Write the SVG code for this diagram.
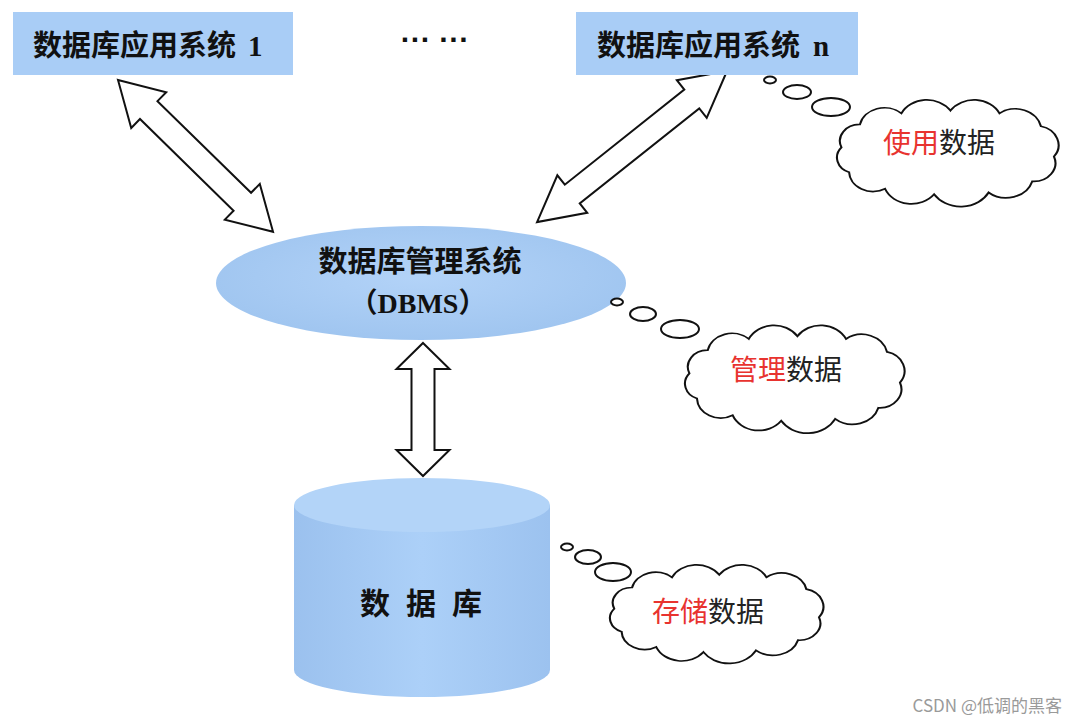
<svg xmlns="http://www.w3.org/2000/svg" xmlns:xlink="http://www.w3.org/1999/xlink" width="1075" height="723" viewBox="0 0 1075 723">
<style>
.box{fill:#a9cdf6;}
.t{font-family:"Noto Sans CJK SC","Noto Sans",sans-serif;font-weight:700;fill:#111;}
.s{font-family:"Liberation Serif","Noto Sans CJK SC",serif;font-weight:700;}
.arr{fill:#fff;stroke:#111;stroke-width:2;stroke-linejoin:miter;}
.cloud{fill:#fff;stroke:#111;stroke-width:2;}
.bub{fill:#fff;stroke:#111;stroke-width:2;}
.ct{font-family:"Noto Sans CJK SC","Noto Sans",sans-serif;font-size:28px;fill:#222;}
.red{fill:#e8332f;}
</style>
<defs>
<radialGradient id="eg" cx="0.5" cy="0.45" r="0.6">
<stop offset="0" stop-color="#b3d3f8"/>
<stop offset="1" stop-color="#9ec4ef"/>
</radialGradient>
<linearGradient id="cg" x1="0" y1="0" x2="1" y2="0">
<stop offset="0" stop-color="#9bc1ee"/>
<stop offset="0.5" stop-color="#acd0f8"/>
<stop offset="1" stop-color="#9cc2ef"/>
</linearGradient>
<path id="cloudp" d="M-95,-5 A18,18 0 0 1 -78,-30 A23,23 0 0 1 -40,-42 A26,26 0 0 1 5,-45 A26,26 0 0 1 50,-42 A24,24 0 0 1 88,-28 A21,21 0 0 1 100,5 A20,20 0 0 1 80,32 A25,25 0 0 1 40,44 A29,29 0 0 1 -10,46 A26,26 0 0 1 -55,40 A22,22 0 0 1 -88,22 A17,17 0 0 1 -95,-5 Z"/>
</defs>
<rect width="1075" height="723" fill="#fff"/>

<g id="connectors">
<polygon class="arr" transform="translate(118,80) rotate(44.4)" points="0,0 43,-25 43,-12.5 174,-12.5 174,-25 217,0 174,25 174,12.5 43,12.5 43,25"/>
<polygon class="arr" transform="translate(727,71) rotate(141.5)" points="0,0 45,-24 45,-12 197.7,-12 197.7,-24 242.7,0 197.7,24 197.7,12 45,12 45,24"/>
<polygon class="arr" transform="translate(423,343) rotate(90)" points="0,0 26,-26.5 26,-11.5 107,-11.5 107,-26.5 133,0 107,26.5 107,11.5 26,11.5 26,26.5"/>
</g>

<g id="app1">
<rect class="box" x="13" y="12" width="280" height="63"/>
<text class="t" x="33" y="56" font-size="29">数据库应用系统<tspan class="s" x="248">1</tspan></text>
</g>

<g id="ellipsis">
<text x="435" y="50" font-family="Liberation Sans, sans-serif" font-weight="700" font-size="30" fill="#111" text-anchor="middle">··· ···</text>
</g>

<g id="appn">
<rect class="box" x="576" y="12" width="282" height="63"/>
<text class="t" x="597" y="56" font-size="29">数据库应用系统<tspan class="s" x="813">n</tspan></text>
</g>

<g id="dbms">
<ellipse cx="421" cy="283" rx="205" ry="57" fill="url(#eg)"/>
<text class="t" x="420" y="272" font-size="29" text-anchor="middle">数据库管理系统</text>
<text class="t" x="418" y="313" font-size="28" text-anchor="middle">（<tspan class="s">DBMS</tspan>）</text>
</g>

<g id="database">
<rect x="294" y="505" width="256" height="165" fill="url(#cg)"/>
<ellipse cx="422" cy="670" rx="128" ry="27" fill="url(#cg)"/>
<ellipse cx="422" cy="505" rx="128" ry="27" fill="#b3d4f8"/>
<text class="t" font-size="30" y="614" x="360 390 406 436 452">数 据 库</text>
</g>

<g id="cloud-use">
<ellipse class="bub" cx="770" cy="80" rx="6" ry="3.5"/>
<ellipse class="bub" cx="797" cy="92" rx="14" ry="7"/>
<ellipse class="bub" cx="831" cy="107" rx="19" ry="9"/>
<use xlink:href="#cloudp" class="cloud" transform="translate(945,152) scale(1.09,0.92)" style="stroke-width:1.9"/>
<text class="ct" x="939" y="153" text-anchor="middle"><tspan class="red">使用</tspan>数据</text>
</g>

<g id="cloud-manage">
<ellipse class="bub" cx="617" cy="302" rx="6" ry="3.5"/>
<ellipse class="bub" cx="643" cy="314" rx="13" ry="7"/>
<ellipse class="bub" cx="680" cy="329" rx="19" ry="9"/>
<use xlink:href="#cloudp" class="cloud" transform="translate(792,378) scale(1.08,0.93)" style="stroke-width:1.9"/>
<text class="ct" x="786" y="380" text-anchor="middle"><tspan class="red">管理</tspan>数据</text>
</g>

<g id="cloud-store">
<ellipse class="bub" cx="567" cy="547" rx="6" ry="3.5"/>
<ellipse class="bub" cx="588" cy="557" rx="13" ry="7"/>
<ellipse class="bub" cx="613" cy="572" rx="18" ry="9"/>
<use xlink:href="#cloudp" class="cloud" transform="translate(714,613) scale(1.05,0.85)" style="stroke-width:2"/>
<text class="ct" x="708" y="622" text-anchor="middle"><tspan class="red">存储</tspan>数据</text>
</g>

<g id="watermark">
<text x="1062" y="712" font-family="Noto Sans CJK SC, Noto Sans, sans-serif" font-size="17" fill="#9a9a9a" text-anchor="end">CSDN @低调的黑客</text>
</g>
</svg>
